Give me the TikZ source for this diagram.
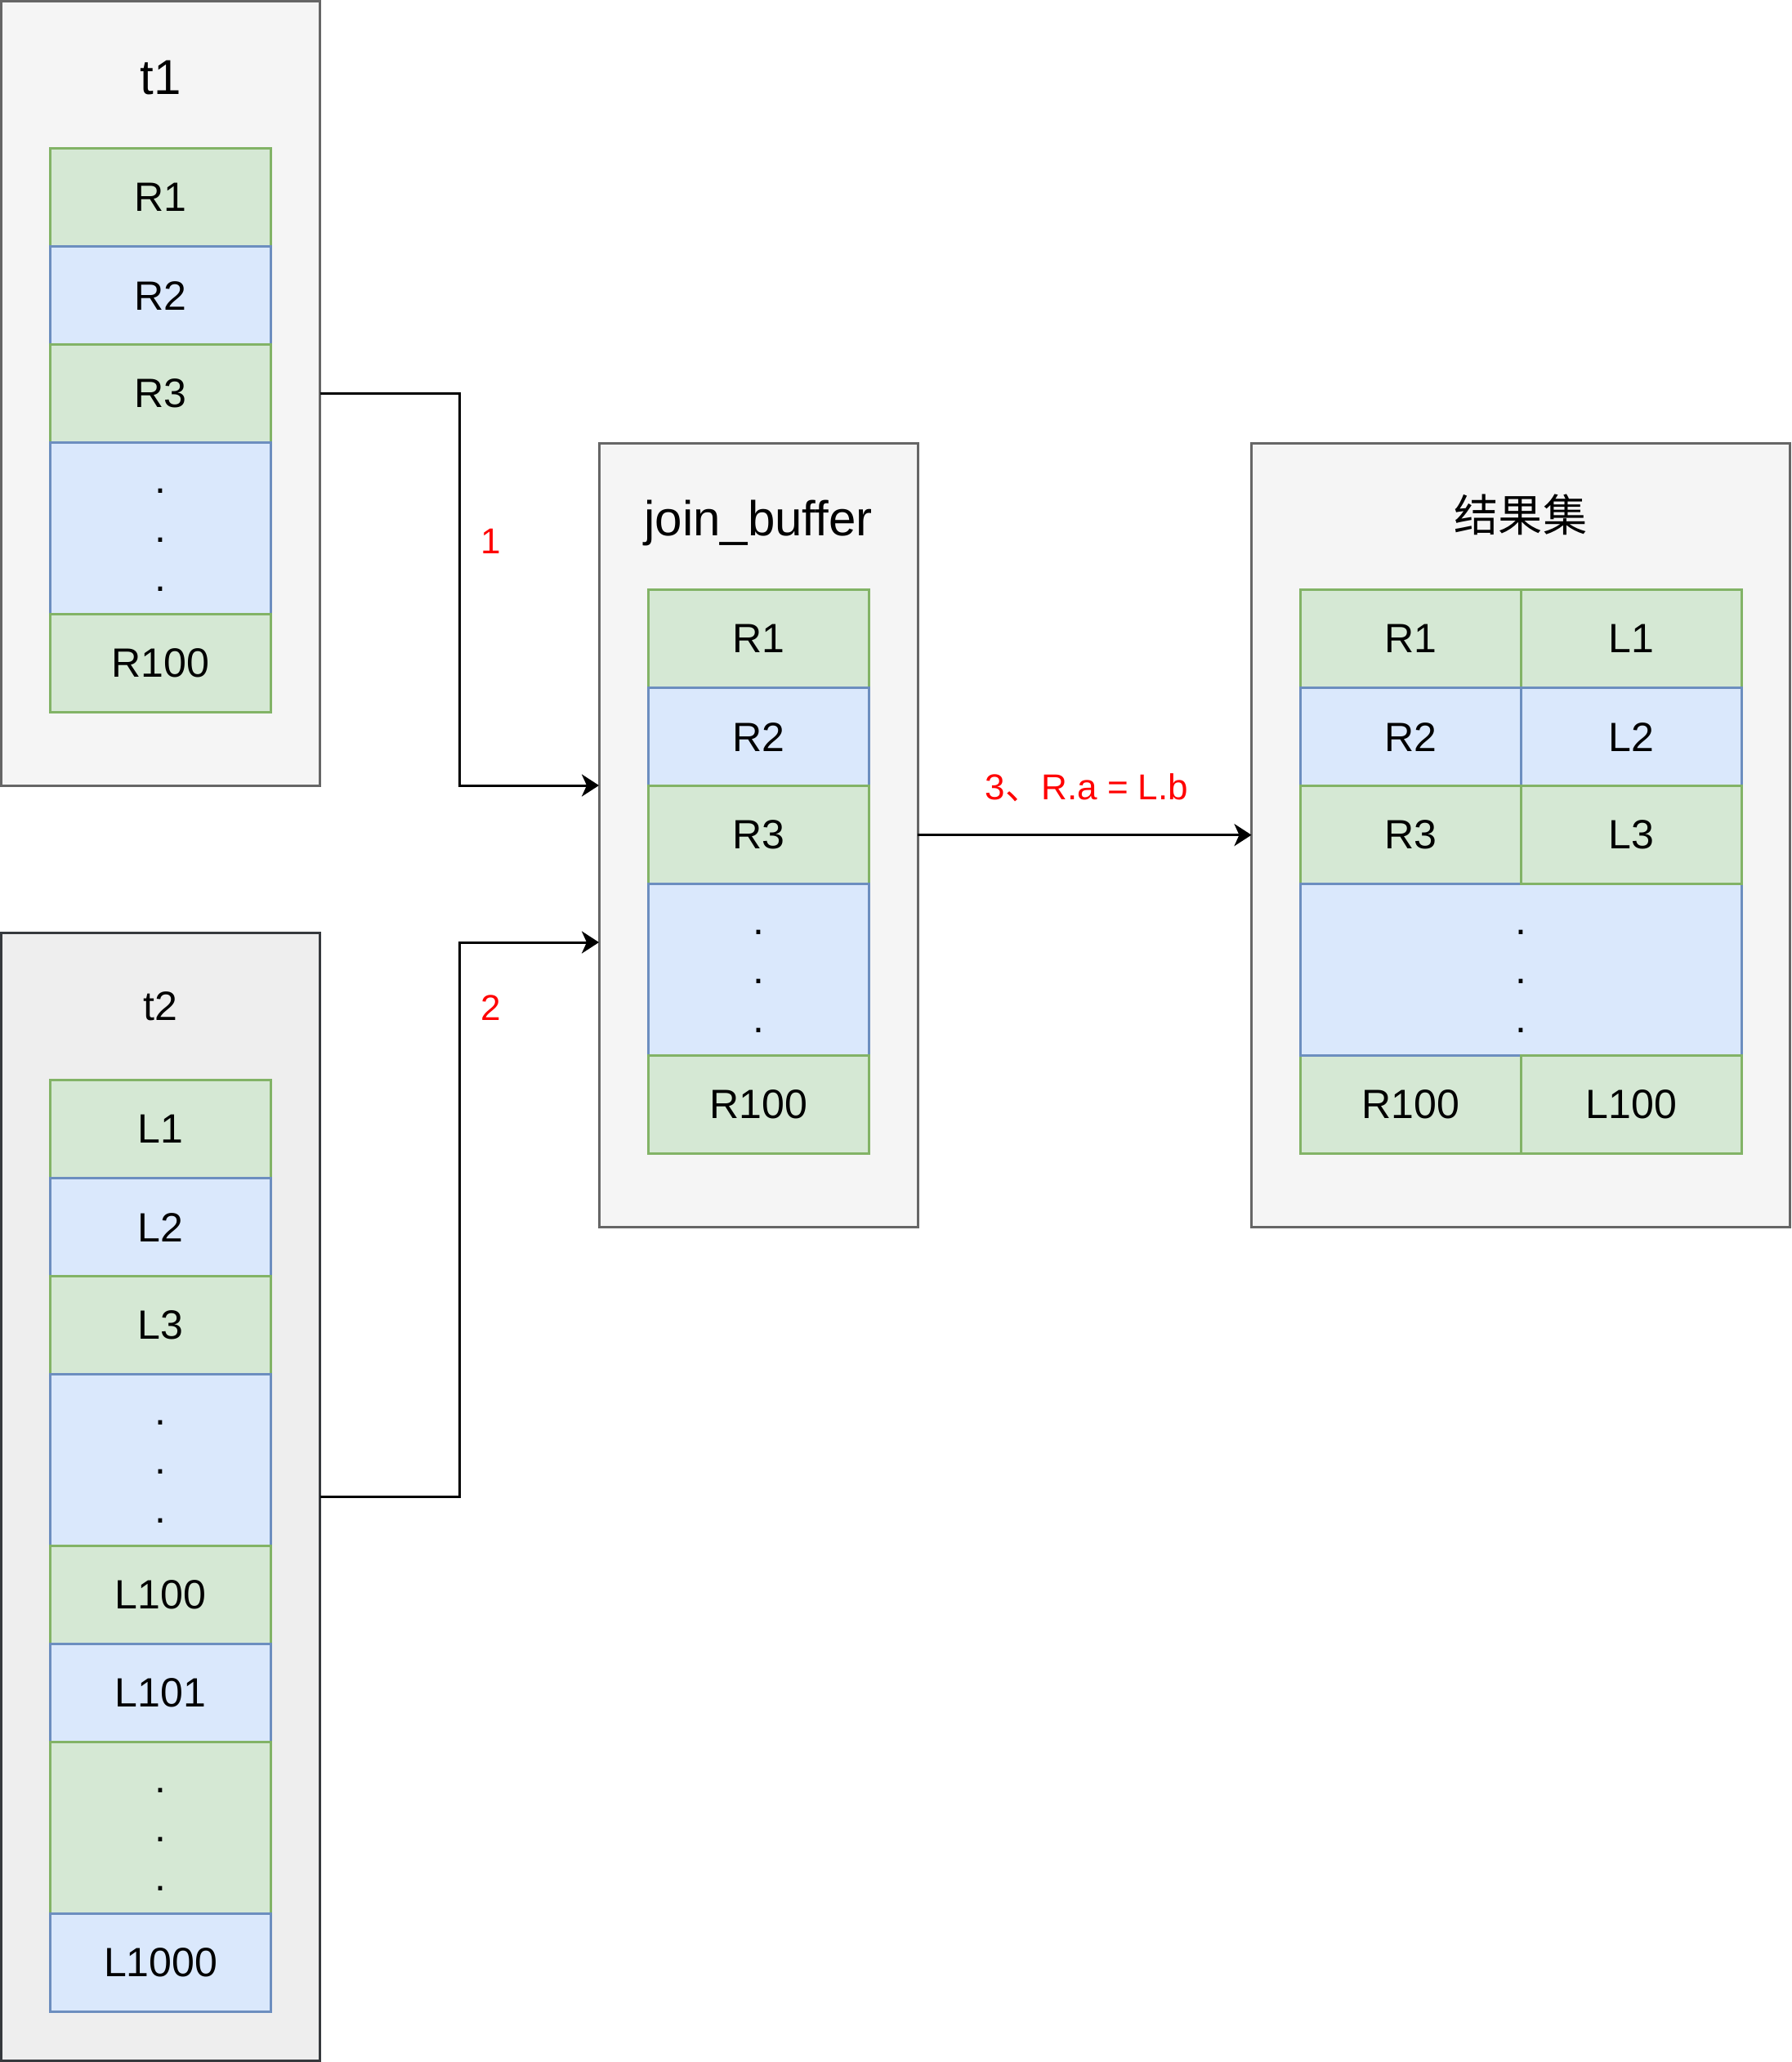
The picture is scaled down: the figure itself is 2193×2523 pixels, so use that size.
\documentclass[tikz,border=0pt]{standalone}
\usepackage{fontspec}
\setmainfont{Liberation Sans}
\newfontfamily\cjk{Noto Sans CJK SC}
\usetikzlibrary{arrows.meta,calc}
\definecolor{boxfill}{HTML}{F5F5F5}
\definecolor{boxline}{HTML}{666666}
\definecolor{ttfill}{HTML}{EEEEEE}
\definecolor{ttline}{HTML}{36393D}
\definecolor{gfill}{HTML}{D5E8D4}
\definecolor{gline}{HTML}{82B366}
\definecolor{bfill}{HTML}{DAE8FC}
\definecolor{bline}{HTML}{6C8EBF}
\definecolor{lblred}{HTML}{FF0000}
\newcommand\rowfont{\fontsize{14.23pt}{17pt}\selectfont}
\newcommand\titlefont{\fontsize{17.07pt}{20pt}\selectfont}
\newcommand\lblfont{\fontsize{12.52pt}{15pt}\selectfont}
\newcommand\cjktitlefont{\cjk\fontsize{15.4pt}{18pt}\selectfont}
\begin{document}
\begin{tikzpicture}[x=0.01cm,y=-0.01cm,line width=0.03cm,
  panel/.style={draw=boxline,fill=boxfill,anchor=north west,inner sep=0pt,outer sep=0pt},
  cell/.style={anchor=north west,inner sep=0pt,outer sep=0pt,minimum width=2.7cm,minimum height=1.2cm,font=\rowfont},
  gcell/.style={cell,draw=gline,fill=gfill},
  bcell/.style={cell,draw=bline,fill=bfill},
  tall/.style={minimum height=2.1cm},
  wide/.style={minimum width=5.4cm},
  ellip/.style={anchor=base,inner sep=0pt,font=\rowfont},
  paneltitle/.style={anchor=base,inner sep=0pt,font=\titlefont},
  lbl/.style={anchor=base,inner sep=0pt,text=lblred,font=\lblfont},
  arr/.style={draw=black,-{Stealth[length=0.21cm,width=0.27cm,inset=0.06cm]}}]
\fill[white] (0,0) rectangle (2193,2523);
\useasboundingbox (0,0) rectangle (2193,2523);

% panels
\node[panel,minimum width=3.898cm,minimum height=9.598cm] (t1) at (1.5,1.5) {};
\node[panel,draw=ttline,fill=ttfill,minimum width=3.898cm,minimum height=13.795cm] (t2) at (1.5,1141.5) {};
\node[panel,minimum width=3.9cm,minimum height=9.587cm] (jb) at (733,542) {};
\node[panel,minimum width=6.59cm,minimum height=9.587cm] (rs) at (1531.5,542) {};

% titles
\node[paneltitle] (t1t) at (196.4,115) {t1};
\node[paneltitle,font=\rowfont] (t2t) at (196.4,1248) {t2};
\node[paneltitle] (jbt) at (928,655) {join\_buffer};
\node[inner sep=0pt,font=\cjktitlefont] (rst) at (1861,630) {结果集};

% t1 rows
\node[gcell] (a1) at (61.5,181.5) {R1};
\node[bcell] (a2) at (61.5,301.5) {R2};
\node[gcell] (a3) at (61.5,421.5) {R3};
\node[bcell,tall] (a4) at (61.5,541.5) {};
\node[gcell] (a5) at (61.5,751.5) {R100};
\foreach \d in {62,122,182} \node[ellip] (a4d\d) at ($(a4.north)+(0,\d)$) {.};

% t2 rows
\node[gcell] (b1) at (61.5,1321.5) {L1};
\node[bcell] (b2) at (61.5,1441.5) {L2};
\node[gcell] (b3) at (61.5,1561.5) {L3};
\node[bcell,tall] (b4) at (61.5,1681.5) {};
\node[gcell] (b5) at (61.5,1891.5) {L100};
\node[bcell] (b6) at (61.5,2011.5) {L101};
\node[gcell,tall] (b7) at (61.5,2131.5) {};
\node[bcell] (b8) at (61.5,2341.5) {L1000};
\foreach \d in {62,122,182} {
  \node[ellip] (b4d\d) at ($(b4.north)+(0,\d)$) {.};
  \node[ellip] (b7d\d) at ($(b7.north)+(0,\d)$) {.};
}

% join_buffer rows
\node[gcell] (c1) at (793.5,721.5) {R1};
\node[bcell] (c2) at (793.5,841.5) {R2};
\node[gcell] (c3) at (793.5,961.5) {R3};
\node[bcell,tall] (c4) at (793.5,1081.5) {};
\node[gcell] (c5) at (793.5,1291.5) {R100};
\foreach \d in {62,122,182} \node[ellip] (c4d\d) at ($(c4.north)+(0,\d)$) {.};

% result rows
\node[gcell] (r1) at (1591.5,721.5) {R1};
\node[bcell] (r2) at (1591.5,841.5) {R2};
\node[gcell] (r3) at (1591.5,961.5) {R3};
\node[gcell] (r5) at (1591.5,1291.5) {R100};
\node[bcell,tall,wide] (r4) at (1591.5,1081.5) {};
\node[gcell] (l1) at (1861.5,721.5) {L1};
\node[bcell] (l2) at (1861.5,841.5) {L2};
\node[gcell] (l3) at (1861.5,961.5) {L3};
\node[gcell] (l5) at (1861.5,1291.5) {L100};
\foreach \d in {62,122,182} \node[ellip] (r4d\d) at ($(r4.north)+(0,\d)$) {.};

% connectors
\coordinate (e1) at ($(jb.north west)+(0,419)$);
\coordinate (e2) at ($(jb.north west)+(0,611)$);
\draw[arr] (t1.east) -| ($(t1.east)!.5!(e1)$) |- (e1);
\draw[arr] (t2.east) -| ($(t2.east)!.5!(e2)$) |- (e2);
\draw[arr] (jb.east) -- (rs.west);

% labels
\node[lbl] (n1) at (601,677) {1};
\node[lbl] (n2) at (601,1248) {2};
\node[lbl] (n3) at (1330,978) {3{\cjk 、}R.a = L.b};
\end{tikzpicture}
\end{document}
